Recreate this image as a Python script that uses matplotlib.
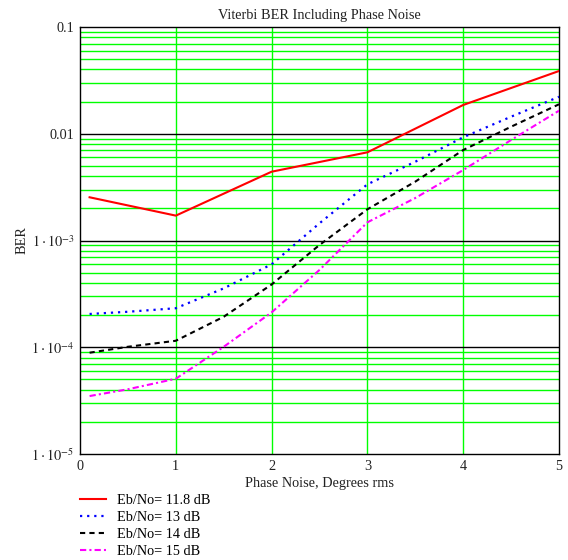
import matplotlib
matplotlib.use("Agg")
import matplotlib.pyplot as plt
from matplotlib.ticker import FixedLocator, NullFormatter

plt.rcParams['font.family'] = ['Liberation Serif', 'DejaVu Serif']
plt.rcParams['mathtext.fontset'] = 'stix'

# Data
x_red = [0.1, 1, 2, 3, 4, 5]
ber_red = [2.54e-3, 1.71e-3, 4.41e-3, 6.70e-3, 1.86e-2, 3.87e-2]

x_pts = [0.1, 0.5, 1, 1.5, 2, 2.5, 3, 3.5, 4, 4.5, 5]
ber_13 = [2.05e-4, 2.15e-4, 2.32e-4, 3.56e-4, 5.98e-4, 1.45e-3, 3.36e-3, 5.47e-3, 9.27e-3, 1.445e-2, 2.22e-2]
ber_14 = [8.89e-5, 1.01e-4, 1.15e-4, 1.93e-4, 3.87e-4, 9.08e-4, 1.96e-3, 3.56e-3, 7.04e-3, 1.164e-2, 1.888e-2]
ber_15 = [3.49e-5, 4.04e-5, 5.07e-5, 1.01e-4, 2.12e-4, 5.30e-4, 1.48e-3, 2.50e-3, 4.57e-3, 8.74e-3, 1.644e-2]

labels = ["Eb/No= 11.8 dB", "Eb/No= 13 dB", "Eb/No= 14 dB", "Eb/No= 15 dB"]
x_ticks = [0, 1, 2, 3, 4, 5]
y_ticks = [1e-5, 1e-4, 1e-3, 1e-2, 1e-1]
y_tick_labels = [r'$1\cdot10^{-5}$', r'$1\cdot10^{-4}$', r'$1\cdot10^{-3}$', '0.01', '0.1']

fig = plt.figure(figsize=(5.68, 5.60), dpi=100)
ax = fig.add_axes([80/568, 1-454/560, 479/568, 427/560])

green = '#00ff00'
ax.set_yscale('log')
ax.set_xlim(0, 5)
ax.set_ylim(1e-5, 0.1)

# grid
for xv in x_ticks[1:-1]:
    ax.axvline(xv, color=green, lw=1.0, zorder=1)
for dec in [1e-5, 1e-4, 1e-3, 1e-2]:
    for m in range(2, 10):
        ax.axhline(dec*m, color=green, lw=1.0, zorder=1)
for yv in y_ticks[1:-1]:
    ax.axhline(yv, color='black', lw=1.0, zorder=1.5)

l1, = ax.plot(x_red, ber_red, color='red', lw=1.5, ls='-', zorder=3)
l2, = ax.plot(x_pts, ber_13, color='blue', lw=1.6, ls=(0, (1, 2.2)), zorder=3)
l3, = ax.plot(x_pts, ber_14, color='black', lw=1.5, ls=(0, (2.5, 2)), zorder=3)
l4, = ax.plot(x_pts, ber_15, color='magenta', lw=1.5, ls=(0, (3, 1.5, 1, 1.5)), zorder=3)

ax.xaxis.set_major_locator(FixedLocator(x_ticks))
ax.set_xticklabels([str(v) for v in x_ticks])
ax.yaxis.set_major_locator(FixedLocator(y_ticks))
ax.yaxis.set_minor_locator(FixedLocator([]))
ax.yaxis.set_minor_formatter(NullFormatter())
ax.set_yticklabels(y_tick_labels)
ax.tick_params(axis='both', which='both', length=0, labelsize=10.3, colors='#222222')
ax.tick_params(axis='x', pad=4)
ax.tick_params(axis='y', pad=4)
for s in ax.spines.values():
    s.set_color('black')
    s.set_linewidth(1.0)

ax.set_title("Viterbi BER Including Phase Noise", fontsize=10.3, pad=6, color='#222222')
ax.set_xlabel("Phase Noise, Degrees rms", fontsize=10.3, labelpad=3, color='#222222')
ax.set_ylabel("BER", fontsize=10.3, color='#222222')
ax.yaxis.set_label_coords(-51/479, 0.5)

fig.legend([l1, l2, l3, l4], labels, loc='upper left',
           bbox_to_anchor=(80/568, 1-494/560), frameon=False, fontsize=10.3,
           handlelength=1.8, handletextpad=0.8, labelspacing=0.28,
           borderaxespad=0, borderpad=0)

fig.savefig("out.png", dpi=100)
